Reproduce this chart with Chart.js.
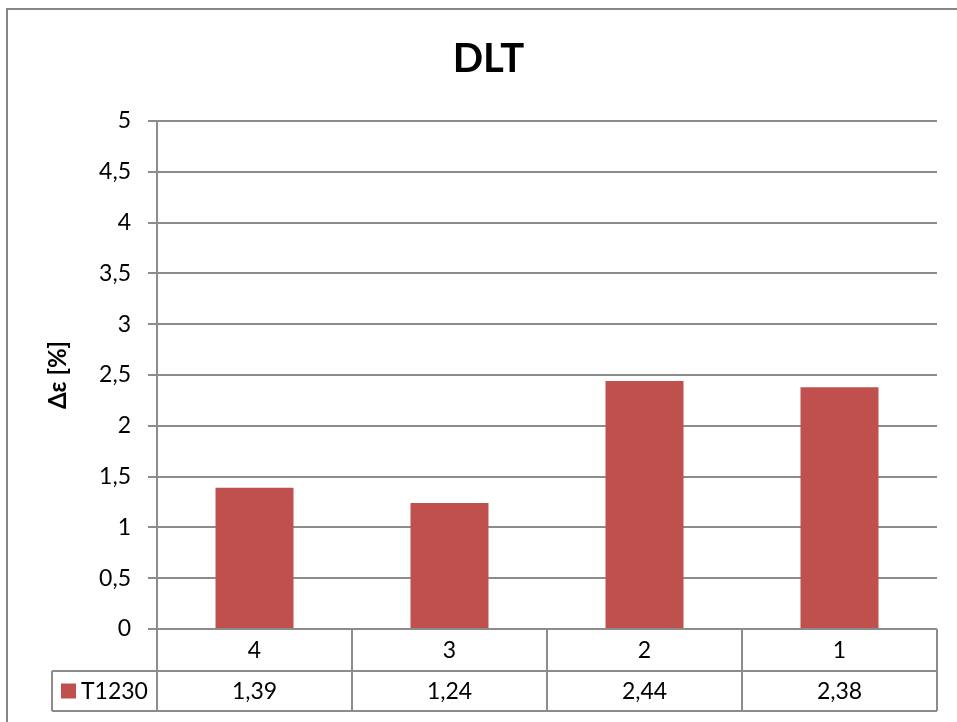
<!DOCTYPE html>
<html>
<head>
<meta charset="utf-8">
<script src="https://cdn.jsdelivr.net/npm/chart.js@4"></script>
<style>
html, body { margin: 0; padding: 0; background: #fff; }
#wrap { width: 957px; height: 722px; }
</style>
</head>
<body>
<div id="wrap"><canvas id="chartDlt" width="957" height="722"></canvas></div>
<script>
// data
let chartTitle = 'DLT';
let yTitle = 'Δε [%]';
let categories = ['4', '3', '2', '1'];
let seriesName = 'T1230';
let seriesValues = [1.39, 1.24, 2.44, 2.38];
let yTicks = [0, 0.5, 1, 1.5, 2, 2.5, 3, 3.5, 4, 4.5, 5];

let fontName = 'Lato, "Open Sans", sans-serif';
let lineGray = '#8c8c8c';
let barRed = '#c0504d';

function commaNum(v, digits) {
    let s = digits === undefined ? String(v) : v.toFixed(digits);
    return s.replace('.', ',');
}

// outer frame of the chart object (cut off on the right and bottom)
const frame = {
    id: 'frame',
    beforeDraw(chart) {
        let ctx = chart.ctx;
        ctx.save();
        ctx.strokeStyle = '#868686';
        ctx.lineWidth = 2;
        ctx.strokeRect(7, 9, 1000, 1000);
        ctx.restore();
    }
};

// excel style data table under the plot
const dataTable = {
    id: 'dataTable',
    afterDraw(chart) {
        let ctx = chart.ctx;
        let area = chart.chartArea;
        let xs = chart.scales.x;
        let half = (area.right - area.left) / categories.length / 2;
        let top = area.bottom;
        let mid = top + 42;
        let bot = mid + 40;
        let legendLeft = 52;

        ctx.save();
        ctx.strokeStyle = lineGray;
        ctx.lineWidth = 2;
        ctx.beginPath();
        ctx.moveTo(area.left, top); ctx.lineTo(area.right, top);
        ctx.moveTo(legendLeft, mid); ctx.lineTo(area.right, mid);
        ctx.moveTo(legendLeft, bot); ctx.lineTo(area.right, bot);
        ctx.moveTo(legendLeft, mid); ctx.lineTo(legendLeft, bot);
        ctx.moveTo(area.left, top); ctx.lineTo(area.left, bot);
        for (let i = 0; i < categories.length; i++) {
            let xr = xs.getPixelForValue(i) + half;
            ctx.moveTo(xr, top); ctx.lineTo(xr, bot);
        }
        ctx.stroke();

        ctx.fillStyle = '#000';
        ctx.font = '23px ' + fontName;
        ctx.textAlign = 'center';
        ctx.textBaseline = 'middle';
        for (let i = 0; i < categories.length; i++) {
            let xc = xs.getPixelForValue(i);
            ctx.fillText(categories[i], xc, (top + mid) / 2 + 1);
            ctx.fillText(commaNum(seriesValues[i], 2), xc, (mid + bot) / 2 + 1);
        }

        // legend key
        ctx.fillStyle = barRed;
        ctx.fillRect(61, (mid + bot) / 2 - 7.5, 15, 15);
        ctx.fillStyle = '#000';
        ctx.textAlign = 'left';
        ctx.fillText(seriesName, 81, (mid + bot) / 2 + 1);
        ctx.restore();
    }
};

let dltChart = new Chart(document.getElementById('chartDlt'), {
    type: 'bar',
    data: {
        labels: categories,
        datasets: [{
            label: seriesName,
            data: seriesValues,
            backgroundColor: barRed,
            borderWidth: 0,
            barPercentage: 0.4,
            categoryPercentage: 1.0
        }]
    },
    options: {
        responsive: false,
        animation: false,
        devicePixelRatio: 1,
        layout: {
            padding: { left: 40, right: 20, top: 0, bottom: 93 }
        },
        plugins: {
            legend: { display: false },
            tooltip: { enabled: false },
            title: {
                display: true,
                text: chartTitle,
                color: '#000',
                font: { family: fontName, size: 40, weight: 'bold', lineHeight: 1.2 },
                padding: { top: 35, bottom: 38 }
            }
        },
        scales: {
            x: {
                display: false,
                offset: true
            },
            y: {
                min: 0,
                max: 5,
                afterBuildTicks(scale) {
                    scale.ticks = yTicks.map(v => ({ value: v }));
                },
                afterFit(scale) {
                    scale.width = 117;
                },
                ticks: {
                    color: '#000',
                    padding: 17,
                    font: { family: fontName, size: 23 },
                    callback: v => commaNum(v)
                },
                grid: {
                    color: lineGray,
                    lineWidth: 2,
                    tickLength: 9,
                    drawTicks: true
                },
                border: { display: true, color: lineGray, width: 2 },
                title: {
                    display: true,
                    text: yTitle,
                    color: '#000',
                    font: { family: fontName, size: 24, weight: 'bold', lineHeight: 1.2 },
                    padding: { top: 4, bottom: 0 }
                }
            }
        }
    },
    plugins: [frame, dataTable]
});
</script>
</body>
</html>
